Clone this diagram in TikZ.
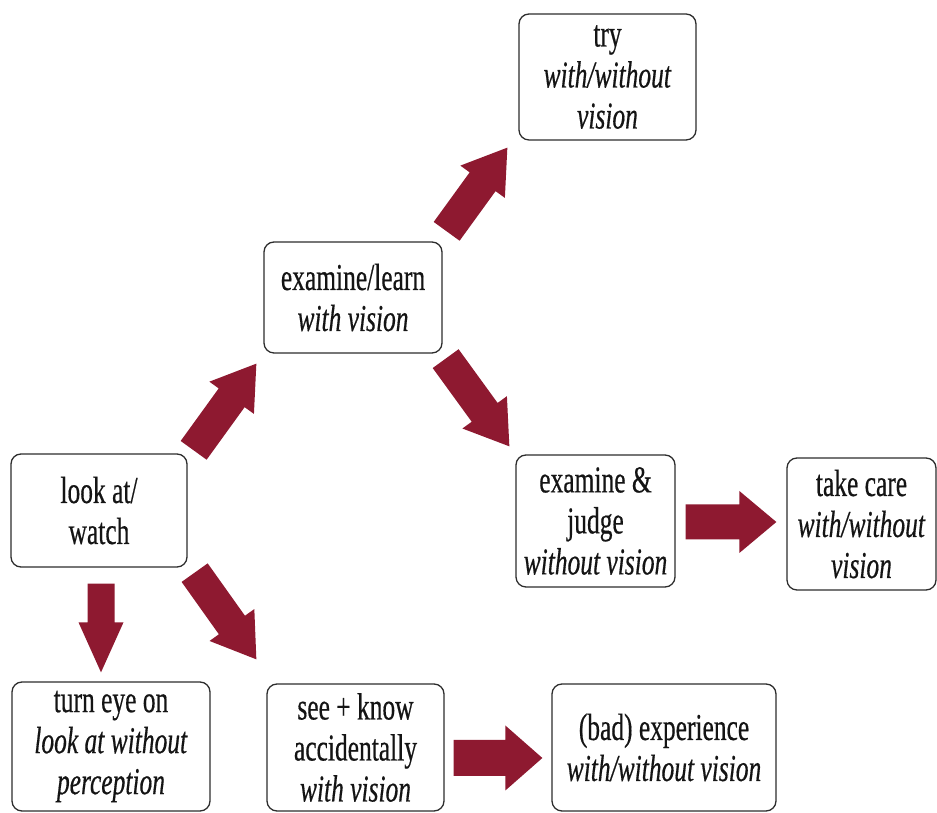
\documentclass[tikz,border=0pt]{standalone}
\usepackage{fontspec}
\setmainfont{Liberation Serif}[FakeStretch=0.67,FakeBold=0.4]
\usetikzlibrary{calc}
\definecolor{arrowfill}{RGB}{142,25,48}
\definecolor{boxline}{RGB}{45,45,45}
\definecolor{boxtext}{RGB}{20,20,20}

% Filled block arrow: tail, tip, shaft width, head width, head length
\newcommand\blockarrow[5]{%
  \fill[arrowfill] let \p1=(#1), \p2=(#2),
      \n1={atan2(\y2-\y1,\x2-\x1)},
      \n2={veclen(\x2-\x1,\y2-\y1)-(#5)},
      \n3={\n1+90}, \n4={\n1-90},
      \n5={(#3)/2}, \n6={(#4)/2} in
    ($(\p1)+(\n3:\n5)$)
    -- ($(\p1)+(\n1:\n2)+(\n3:\n5)$)
    -- ($(\p1)+(\n1:\n2)+(\n3:\n6)$)
    -- (\p2)
    -- ($(\p1)+(\n1:\n2)+(\n4:\n6)$)
    -- ($(\p1)+(\n1:\n2)+(\n4:\n5)$)
    -- ($(\p1)+(\n4:\n5)$) -- cycle;}

\begin{document}
\begin{tikzpicture}[x=1pt,y=1pt,
  box/.style={draw=boxline, line width=1.3pt, rounded corners=10pt,
    align=center, inner sep=0pt, text=boxtext,
    font=\fontsize{38}{41}\selectfont}]
\useasboundingbox (0,0) rectangle (937,813);

% stages
\node[box, minimum width=176pt, minimum height=113pt] (look) at (99,302.5) {look at/\\watch};
\node[box, minimum width=198pt, minimum height=129pt] (turn) at (111,66.5) {turn eye on\\\textit{look at without}\\\textit{perception}};
\node[box, minimum width=177pt, minimum height=127pt] (see) at (355.5,65.5) {see + know\\accidentally\\\textit{with vision}};
\node[box, minimum width=224pt, minimum height=127pt] (bad) at (664,65.5) {(bad) experience\\\textit{with/without vision}};
\node[box, minimum width=178pt, minimum height=111pt] (el) at (353,515.5) {examine/learn\\\textit{with vision}};
\node[box, minimum width=177pt, minimum height=126pt] (try) at (607.5,736) {try\\\textit{with/without}\\\textit{vision}};
\node[box, minimum width=159pt, minimum height=132pt] (ej) at (595.5,292) {examine \&\\judge\\\textit{without vision}};
\node[box, minimum width=149pt, minimum height=132pt] (tc) at (861.5,289) {take care\\\textit{with/without}\\\textit{vision}};

% transitions
\blockarrow{$(look.north east)+(6,3)$}{$(el.south west)+(-7,-10)$}{32}{55}{42}
\blockarrow{$(el.north east)+(4,10)$}{$(try.south west)+(-11,-7)$}{32}{55}{42}
\blockarrow{$(el.south east)+(3,-5)$}{$(ej.north west)+(-6,8)$}{32}{55}{42}
\blockarrow{$(look.south east)+(7,-5)$}{$(see.north west)+(-10,24)$}{32}{55}{42}
\blockarrow{$(look.south)+(2,-16)$}{$(look.south |- turn.north)+(2,9)$}{27}{45}{50}
\blockarrow{$(ej.east)+(10,-1)$}{$(ej.east -| tc.west)+(-10,-1)$}{35}{62}{37}
\blockarrow{$(see.east)+(9,-10.5)$}{$(see.east -| bad.west)+(-9,-10.5)$}{36}{65}{37}
\end{tikzpicture}
\end{document}
